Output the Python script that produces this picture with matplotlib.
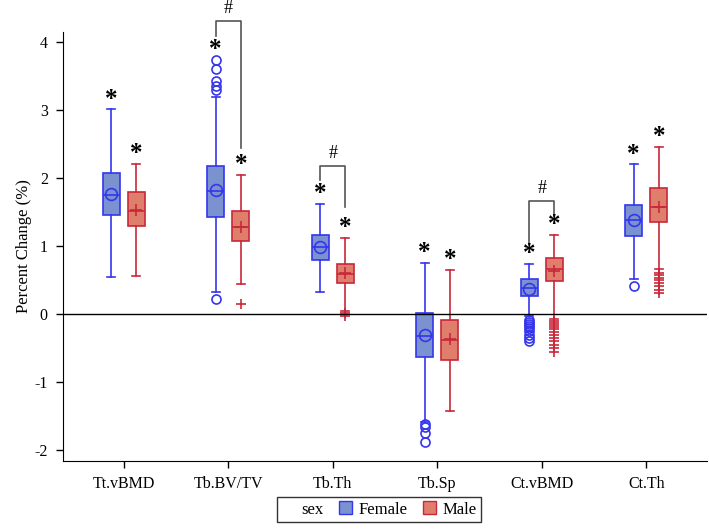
import matplotlib.pyplot as plt
from matplotlib.patches import Patch

plt.rcParams['font.family'] = ['Liberation Serif', 'DejaVu Serif']

categories = ['Tt.vBMD', 'Tb.BV/TV', 'Tb.Th', 'Tb.Sp', 'Ct.vBMD', 'Ct.Th']

# each row: whislo, q1, med, q3, whishi, mean
female_stats = [
    [0.54, 1.45, 1.75, 2.08, 3.01, 1.76],
    [0.33, 1.43, 1.81, 2.18, 3.19, 1.83],
    [0.33, 0.79, 0.98, 1.16, 1.62, 0.98],
    [-1.58, -0.63, -0.32, 0.01, 0.75, -0.31],
    [-0.03, 0.26, 0.39, 0.51, 0.74, 0.37],
    [0.52, 1.15, 1.38, 1.61, 2.20, 1.39],
]
female_fliers = [
    [],
    [3.30, 3.35, 3.43, 3.61, 3.74, 0.22],
    [],
    [-1.61, -1.66, -1.75, -1.88],
    [-0.08, -0.12, -0.15, -0.18, -0.21, -0.25, -0.30, -0.35, -0.40],
    [0.41],
]
male_stats = [
    [0.56, 1.29, 1.52, 1.79, 2.21, 1.53],
    [0.45, 1.08, 1.28, 1.51, 2.05, 1.28],
    [0.05, 0.46, 0.59, 0.74, 1.12, 0.60],
    [-1.43, -0.68, -0.38, -0.08, 0.65, -0.36],
    [-0.07, 0.48, 0.67, 0.83, 1.17, 0.63],
    [0.66, 1.35, 1.57, 1.85, 2.46, 1.57],
]
male_fliers = [
    [],
    [0.15],
    [0.02, -0.02],
    [],
    [-0.10, -0.13, -0.16, -0.19, -0.22, -0.26, -0.30, -0.35, -0.40, -0.45, -0.50, -0.55],
    [0.61, 0.57, 0.53, 0.50, 0.46, 0.41, 0.36, 0.31],
]

# significance brackets: category, top, left leg end, right leg end
brackets = [
    (1, 4.31, 4.09, 2.44),
    (2, 2.18, 1.97, 1.57),
    (4, 1.66, 1.05, 1.44),
]

F_EDGE = '#3535ee'
F_FACE = '#7a92cf'
M_EDGE = '#c8283a'
M_FACE = '#e07e6c'


def make_stats(stats, fliers):
    out = []
    for s, f in zip(stats, fliers):
        out.append(dict(whislo=s[0], q1=s[1], med=s[2], q3=s[3], whishi=s[4],
                        mean=s[5], fliers=f))
    return out


fig = plt.figure(figsize=(7.09, 5.30), dpi=100)
ax = fig.add_axes([0.089, 0.130, 0.908, 0.810])

off = 0.12
w = 0.165
n = len(categories)

for stats, fliers, edge, face, sign, mean_m, fl_m in [
        (female_stats, female_fliers, F_EDGE, F_FACE, -1, 'o', 'o'),
        (male_stats, male_fliers, M_EDGE, M_FACE, 1, '+', '+')]:
    pos = [i + sign * off for i in range(n)]
    ax.bxp(make_stats(stats, fliers), positions=pos, widths=w, patch_artist=True,
           showmeans=True, capwidths=0.08,
           boxprops=dict(facecolor=face, edgecolor=edge, linewidth=1.2),
           medianprops=dict(color=edge, linewidth=1.2),
           whiskerprops=dict(color=edge, linewidth=1.2),
           capprops=dict(color=edge, linewidth=1.2),
           meanprops=dict(marker=mean_m, markersize=8.5, markerfacecolor='none',
                          markeredgecolor=edge, markeredgewidth=1.2),
           flierprops=dict(marker=fl_m, markersize=6.5, markerfacecolor='none',
                           markeredgecolor=edge, markeredgewidth=1.2))
    for p, s, f in zip(pos, stats, fliers):
        top = max([s[4]] + f)
        ax.text(p, top + 0.15, '*', ha='center', va='center', fontsize=18,
                fontweight='bold', clip_on=False)

for i, top, yl, yr in brackets:
    xl, xr = i - off, i + off
    ax.plot([xl, xl, xr, xr], [yl, top, top, yr], color='#555555', lw=1.2,
            clip_on=False)
    ax.text(i, top + 0.18, '#', ha='center', va='center', fontsize=13,
            clip_on=False)

ax.axhline(0, color='black', lw=1.0)

ax.set_xlim(-0.58, n - 0.42)
ax.set_ylim(-2.16, 4.15)
ax.set_xticks(range(n))
ax.set_xticklabels(categories, fontsize=11.5)
ax.set_yticks([-2, -1, 0, 1, 2, 3, 4])
ax.set_yticklabels(['-2', '-1', '0', '1', '2', '3', '4'], fontsize=11.5)
ax.tick_params(direction='out', length=5, width=1.0, pad=6)
ax.set_ylabel('Percent Change (%)', fontsize=12, labelpad=2)
ax.spines['top'].set_visible(False)
ax.spines['right'].set_visible(False)

handles = [Patch(facecolor='none', edgecolor='none'),
           Patch(facecolor=F_FACE, edgecolor=F_EDGE),
           Patch(facecolor=M_FACE, edgecolor=M_EDGE)]
leg = fig.legend(handles, ['sex', 'Female', 'Male'], ncol=3, loc='lower center',
                 bbox_to_anchor=(0.535, 0.0), fontsize=12, frameon=True,
                 fancybox=False, edgecolor='black', handlelength=0.8,
                 handleheight=0.8, handletextpad=0.4, columnspacing=0.9,
                 borderpad=0.25)
leg.get_frame().set_linewidth(1.0)

fig.savefig('out.png', dpi=100)
